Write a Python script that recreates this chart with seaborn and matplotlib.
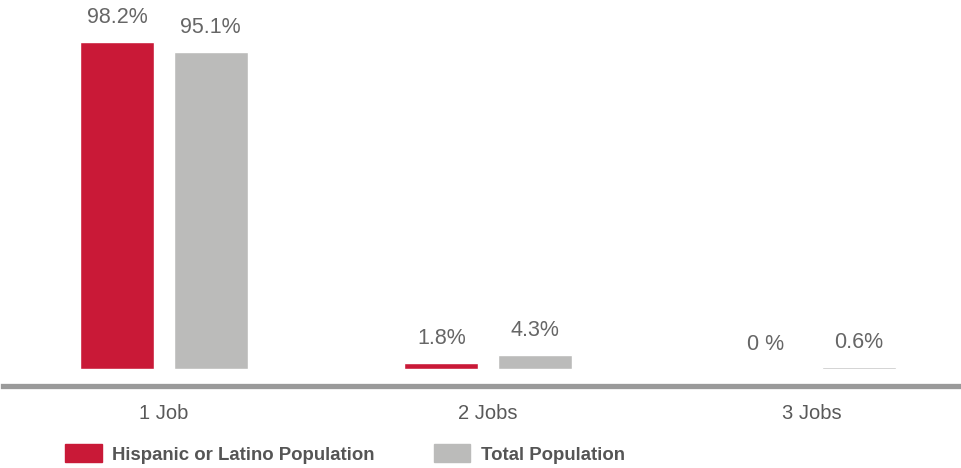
import matplotlib
matplotlib.use("Agg")
import matplotlib.pyplot as plt
import seaborn as sns
import pandas as pd

# Share of workers by number of jobs held
categories = ["1 Job", "2 Jobs", "3 Jobs"]
hispanic = [98.2, 1.8, 0.0]
total = [95.1, 4.3, 0.6]
hispanic_labels = ["98.2%", "1.8%", "0 %"]
total_labels = ["95.1%", "4.3%", "0.6%"]
series = ["Hispanic or Latino Population", "Total Population"]

df = pd.DataFrame({
    "category": categories * 2,
    "value": hispanic + total,
    "series": [series[0]] * 3 + [series[1]] * 3,
})

sns.set_theme(style="white")
plt.rcParams["font.family"] = ["Liberation Sans", "DejaVu Sans"]

W, H = 961, 468
fig = plt.figure(figsize=(W / 100, H / 100), dpi=100)
ax = fig.add_axes([3 / W, (H - 386) / H, (W - 3) / W, 386 / H])

palette = {series[0]: "#C91937", series[1]: "#BBBBBA"}
sns.barplot(data=df, x="category", y="value", hue="series", palette=palette,
            width=0.577, gap=0.21, saturation=1, ax=ax, legend=False)

ax.set_xlim(-0.497, 2.46)
ax.set_ylim(-5.1, 110.8)

# value labels above each bar
for container, labels in zip(ax.containers, [hispanic_labels, total_labels]):
    ax.bar_label(container, labels=labels, padding=10, fontsize=15.5,
                 color="#666666")

for side in ["top", "right", "left"]:
    ax.spines[side].set_visible(False)
ax.spines["bottom"].set_color("#9A9A9A")
ax.spines["bottom"].set_linewidth(3.8)
ax.set_yticks([])
ax.set_xlabel("")
ax.set_ylabel("")
ax.tick_params(axis="x", length=0, pad=13, labelsize=14.5, labelcolor="#595959")

handles = [plt.Rectangle((0, 0), 1, 1, color=palette[s]) for s in series]
fig.legend(handles, series, loc="lower left", bbox_to_anchor=(58 / W, -3 / H),
           ncol=2, frameon=False, handlelength=1.95, handleheight=1.15,
           handletextpad=0.55, columnspacing=3.2, borderaxespad=0.0,
           prop={"weight": "bold", "size": 13.4}, labelcolor="#555555")

fig.savefig("out.png", dpi=100)
